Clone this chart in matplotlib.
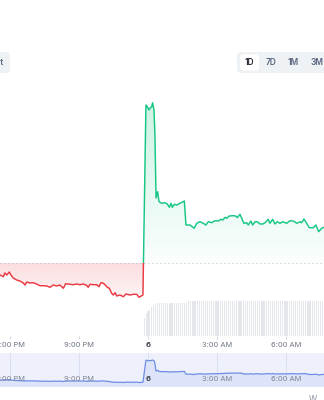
import matplotlib
matplotlib.use('Agg')
import matplotlib.pyplot as plt
import numpy as np
from matplotlib.patches import Rectangle, FancyBboxPatch
from matplotlib.path import Path
import matplotlib.transforms as mtransforms

plt.rcParams['font.family'] = ['Inter', 'DejaVu Sans']

# ---------------- data ----------------
# time in hours relative to midnight ("6"), price
price_time = [-6.50, -6.43, -6.29, -6.22, -6.14, -6.03, -5.96, -5.86, -5.71, -5.57, -5.42,
              -5.35, -5.27, -5.13, -5.00, -4.84, -4.70, -4.55, -4.40, -4.26, -4.12,
              -3.97, -3.83, -3.68, -3.58, -3.39, -3.25, -3.10, -2.96, -2.81, -2.67,
              -2.60, -2.52, -2.38, -2.23, -2.13, -2.04, -1.94, -1.86, -1.77, -1.68,
              -1.58, -1.51, -1.43, -1.36, -1.22, -1.07, -0.96, -0.78, -0.64, -0.49,
              -0.39, -0.27, -0.22,
              -0.09, -0.03, 0.04, 0.09, 0.16, 0.20, 0.26, 0.30, 0.35, 0.42, 0.48,
              0.60, 0.74, 0.84, 0.93, 1.00, 1.06, 1.14, 1.25, 1.39, 1.58, 1.65,
              1.83, 2.01, 2.12, 2.26, 2.40, 2.52, 2.62, 2.77, 2.91, 3.06, 3.16,
              3.25, 3.35, 3.42, 3.53, 3.71, 3.81, 3.88, 4.00, 4.17, 4.29, 4.36,
              4.47, 4.55, 4.65, 4.75, 4.87, 4.99, 5.09, 5.23, 5.30, 5.42, 5.52,
              5.62, 5.74, 5.86, 6.03, 6.17, 6.32, 6.47, 6.61, 6.68, 6.78, 6.90,
              7.01, 7.19, 7.30, 7.42, 7.55, 7.65, 7.75]
price_value = [1.250, 1.250, 1.233, 1.270, 1.250, 1.280, 1.250, 1.220, 1.200, 1.190, 1.170,
               1.150, 1.180, 1.170, 1.173, 1.160, 1.143, 1.143, 1.140, 1.127, 1.150,
               1.140, 1.150, 1.117, 1.163, 1.157, 1.153, 1.160, 1.153, 1.160, 1.147,
               1.127, 1.157, 1.153, 1.153, 1.133, 1.173, 1.167, 1.150, 1.127, 1.117,
               1.067, 1.050, 1.073, 1.040, 1.050, 1.033, 1.060, 1.050, 1.057, 1.057,
               1.027, 1.043, 1.050,
               2.950, 2.933, 2.900, 2.920, 2.933, 2.973, 2.900, 2.670, 2.020, 2.083, 1.983,
               1.967, 1.973, 1.960, 1.927, 1.967, 1.927, 1.957, 1.950, 1.967, 1.990, 1.750,
               1.750, 1.717, 1.767, 1.783, 1.767, 1.750, 1.783, 1.773, 1.793, 1.790, 1.807,
               1.800, 1.827, 1.817, 1.840, 1.843, 1.840, 1.823, 1.857, 1.767, 1.773, 1.750,
               1.790, 1.750, 1.783, 1.783, 1.760, 1.760, 1.773, 1.807, 1.767, 1.807, 1.760,
               1.783, 1.767, 1.783, 1.767, 1.793, 1.790, 1.767, 1.783, 1.773, 1.810, 1.767,
               1.723, 1.723, 1.750, 1.683, 1.717, 1.727, 1.720]
prev_close = 1.37

# volume bars, 5-minute buckets starting 23:50
vol_start_min = -10
vol_step_min = 5
volume = [0.90, 1.10, 1.25, 1.35, 1.45, 1.55, 1.62,
          1.65, 1.65, 1.65, 1.65, 1.65, 1.65, 1.65, 1.65,
          1.65, 1.65, 1.65, 1.65, 1.65, 1.65, 1.65, 1.65,
          1.75, 1.75, 1.75, 1.75, 1.75, 1.75, 1.75, 1.75, 1.75, 1.75, 1.75, 1.75,
          1.75, 1.75, 1.75, 1.75, 1.75, 1.75, 1.75, 1.75, 1.75, 1.75, 1.75, 1.75,
          1.75, 1.75, 1.75, 1.75, 1.75, 1.75, 1.75, 1.75, 1.75, 1.75, 1.75, 1.75,
          1.75, 1.75, 1.75, 1.75, 1.75, 1.75, 1.75, 1.75, 1.75, 1.75, 1.75, 1.75,
          1.75, 1.75, 1.75, 1.75, 1.75, 1.75, 1.75, 1.75, 1.75, 1.75, 1.75, 1.75,
          1.75, 1.75, 1.75, 1.75, 1.75, 1.75, 1.75, 1.75, 1.75, 1.75, 1.75, 1.75]

tick_hours = [-6, -3, 0, 3, 6]
tick_labels = ['6:00 PM', '9:00 PM', '6', '3:00 AM', '6:00 AM']
range_buttons = ['1D', '7D', '1M', '3M']

# ---------------- layout ----------------
W, H = 324, 400
fig = plt.figure(figsize=(W / 100, H / 100), dpi=100)
fig.patch.set_facecolor('white')

def fy(ypx):
    return (H - ypx) / H

XMIN, XMAX = -148 / 23, 176 / 23
GREEN = '#16c784'
RED = '#ea3943'

t = np.array(price_time)
p = np.array(price_value)

rect_main = [0, fy(336), 1, (336 - 90) / H]

# volume axes (behind)
axv = fig.add_axes(rect_main)
vt = (vol_start_min + vol_step_min * np.arange(len(volume))) / 60.0
axv.bar(vt, volume, width=vol_step_min / 60 * 0.55, color='#e3e6ea', linewidth=0)
axv.set_xlim(XMIN, XMAX)
axv.set_ylim(0, 246 * 0.05)
axv.axis('off')

# main price axes
ax = fig.add_axes(rect_main, facecolor='none')
YMIN, YMAX = 0.64, 3.10

def grad_img(color, a_low, a_high):
    rgb = matplotlib.colors.to_rgb(color)
    arr = np.zeros((256, 1, 4))
    arr[..., 0], arr[..., 1], arr[..., 2] = rgb
    arr[:, 0, 3] = np.linspace(a_low, a_high, 256)
    return arr

fb_g = ax.fill_between(t, p, prev_close, where=p >= prev_close, interpolate=True,
                       color='none', linewidth=0)
fb_r = ax.fill_between(t, p, prev_close, where=p <= prev_close, interpolate=True,
                       color='none', linewidth=0)
im_g = ax.imshow(grad_img(GREEN, 0.02, 0.22), extent=[XMIN - 1, XMAX + 1, prev_close, 3.0],
                 origin='lower', aspect='auto', zorder=1)
im_g.set_clip_path(Path.make_compound_path(*fb_g.get_paths()), ax.transData)
im_r = ax.imshow(grad_img(RED, 0.05, 0.17), extent=[XMIN - 1, XMAX + 1, 1.0, prev_close],
                 origin='lower', aspect='auto', zorder=1)
im_r.set_clip_path(Path.make_compound_path(*fb_r.get_paths()), ax.transData)

lg, = ax.plot(t, p, color=GREEN, lw=1.05, zorder=3, solid_joinstyle='round')
lg.set_clip_path(Rectangle((XMIN - 1, prev_close), XMAX - XMIN + 2, 5, transform=ax.transData))
lr, = ax.plot(t, p, color=RED, lw=1.05, zorder=3, solid_joinstyle='round')
lr.set_clip_path(Rectangle((XMIN - 1, -1), XMAX - XMIN + 2, prev_close + 1, transform=ax.transData))

ax.axhline(prev_close, color='#b9bec7', lw=0.8, ls=(0, (1, 2.6)), zorder=2)

ax.set_xlim(XMIN, XMAX)
ax.set_ylim(YMIN, YMAX)
for s in ax.spines.values():
    s.set_visible(False)
ax.set_yticks([])
ax.set_xticks(tick_hours)
ax.set_xticklabels(tick_labels)
ax.tick_params(axis='x', length=2.2, width=0.6, color='#cdd1d8', pad=2.0,
               labelsize=5.4, labelcolor='#6f7785')
for lbl in ax.get_xticklabels():
    if lbl.get_text() == '6':
        lbl.set_fontweight('bold')
        lbl.set_color('#3c424c')

# navigator
axn = fig.add_axes([0, fy(387), 1, 34 / H], facecolor='#eef1fc')
NYMIN = 0.642
axn.fill_between(t, p, NYMIN, color='#dde3f8', linewidth=0, zorder=1)
axn.plot(t, p, color='#6e8de4', lw=0.9, zorder=3)
for th in tick_hours:
    axn.axvline(th, color='#d5dbee', lw=0.6, zorder=0.5)
trans = mtransforms.blended_transform_factory(axn.transData, axn.transAxes)
for th, lab in zip(tick_hours, tick_labels):
    axn.text(th, 0.235, lab, transform=trans, ha='center', va='center', fontsize=5.4,
             color='#3c424c' if lab == '6' else '#7e8594',
             fontweight='bold' if lab == '6' else 'normal', zorder=4)
axn.set_xlim(XMIN, XMAX)
axn.set_ylim(NYMIN, 3.573)
axn.set_xticks([])
axn.set_yticks([])
for s in axn.spines.values():
    s.set_visible(False)

# buttons (pixel coordinates)
ident = mtransforms.IdentityTransform()
fig.patches.append(FancyBboxPatch((237, H - 73), 100, 21,
                                  boxstyle='round,pad=0,rounding_size=4',
                                  fc='#eff2f5', ec='none', transform=ident, figure=fig))
fig.patches.append(FancyBboxPatch((240, H - 70.5), 19, 16,
                                  boxstyle='round,pad=0,rounding_size=3',
                                  fc='white', ec='none', transform=ident, figure=fig))
fig.patches.append(FancyBboxPatch((-30, H - 73), 40, 21,
                                  boxstyle='round,pad=0,rounding_size=4',
                                  fc='#eff2f5', ec='none', transform=ident, figure=fig))
btn_x = [249.5, 271, 293, 317]
for bx, lab in zip(btn_x, range_buttons):
    fig.text(bx / W, fy(62.5), lab, ha='center', va='center', fontsize=6,
             fontweight='semibold', color='#222531' if lab == '1D' else '#58667e')
fig.text(3.5 / W, fy(62.5), 'Chart', ha='right', va='center', fontsize=6,
         fontweight='semibold', color='#58667e')
fig.text(309 / W, fy(394.5), 'W', ha='left', va='top', fontsize=6, color='#8a919e')

fig.savefig('out.png', dpi=100)
